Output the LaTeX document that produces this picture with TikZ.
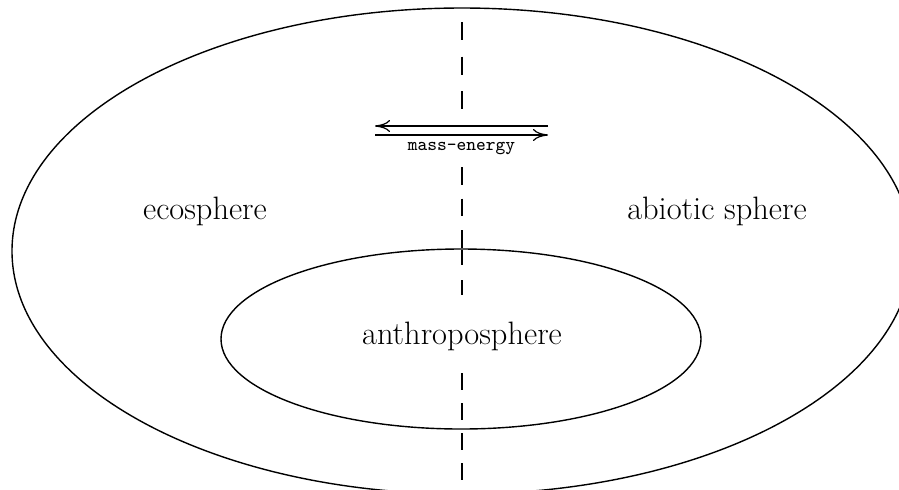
\documentclass[tikz,border=0pt]{standalone}
\usetikzlibrary{arrows.meta,shapes.geometric}
\begin{document}
\begin{tikzpicture}[x=0.5pt,y=-0.5pt,line width=0.7pt,
  sphere/.style={draw,ellipse,inner sep=0pt,outer sep=0pt},
  lbl/.style={anchor=base,inner sep=0pt,font=\fontsize{16.2}{19}\selectfont},
  flow/.style={-{To[length=7.5pt,width=6pt]},line width=0.6pt},
  divider/.style={line width=0.6pt}]
\useasboundingbox (0,0) rectangle (899,489);
\clip (0,0) rectangle (899,489);
\node[sphere,minimum width=450pt,minimum height=243pt] (outer) at (462,251) {};
\node[sphere,minimum width=240pt,minimum height=90pt] (inner) at (461,339) {};
% dashed divider
\coordinate (a1) at (462,22);  \coordinate (a2) at (462,110);
\coordinate (b1) at (462,167); \coordinate (b2) at (462,248);
\coordinate (c1) at (462,250); \coordinate (c2) at (462,296);
\coordinate (d1) at (462,373); \coordinate (d2) at (462,481);
\draw[divider,dash pattern=on 9pt off 8.25pt] (a1) -- (a2);
\draw[divider,dash pattern=on 8.75pt off 7pt] (b1) -- (b2);
\draw[divider,dash pattern=on 7.5pt off 7.5pt] (c1) -- (c2);
\draw[divider,dash pattern=on 8.5pt off 6.5pt] (d1) -- (d2);
% mass-energy exchange
\coordinate (l1) at (548,126); \coordinate (l2) at (375,126);
\coordinate (r1) at (375,135); \coordinate (r2) at (548,135);
\draw[flow] (l1) -- (l2);
\draw[flow] (r1) -- (r2);
\node[anchor=base,inner sep=0pt,font=\fontsize{9.3}{11}\ttfamily] (me) at (461.5,150) {mass-energy};
% labels
\node[lbl] (eco) at (205,219) {ecosphere};
\node[lbl] (abio) at (717,219) {abiotic sphere};
\node[lbl] (anth) at (462,344) {anthroposphere};
\end{tikzpicture}
\end{document}
